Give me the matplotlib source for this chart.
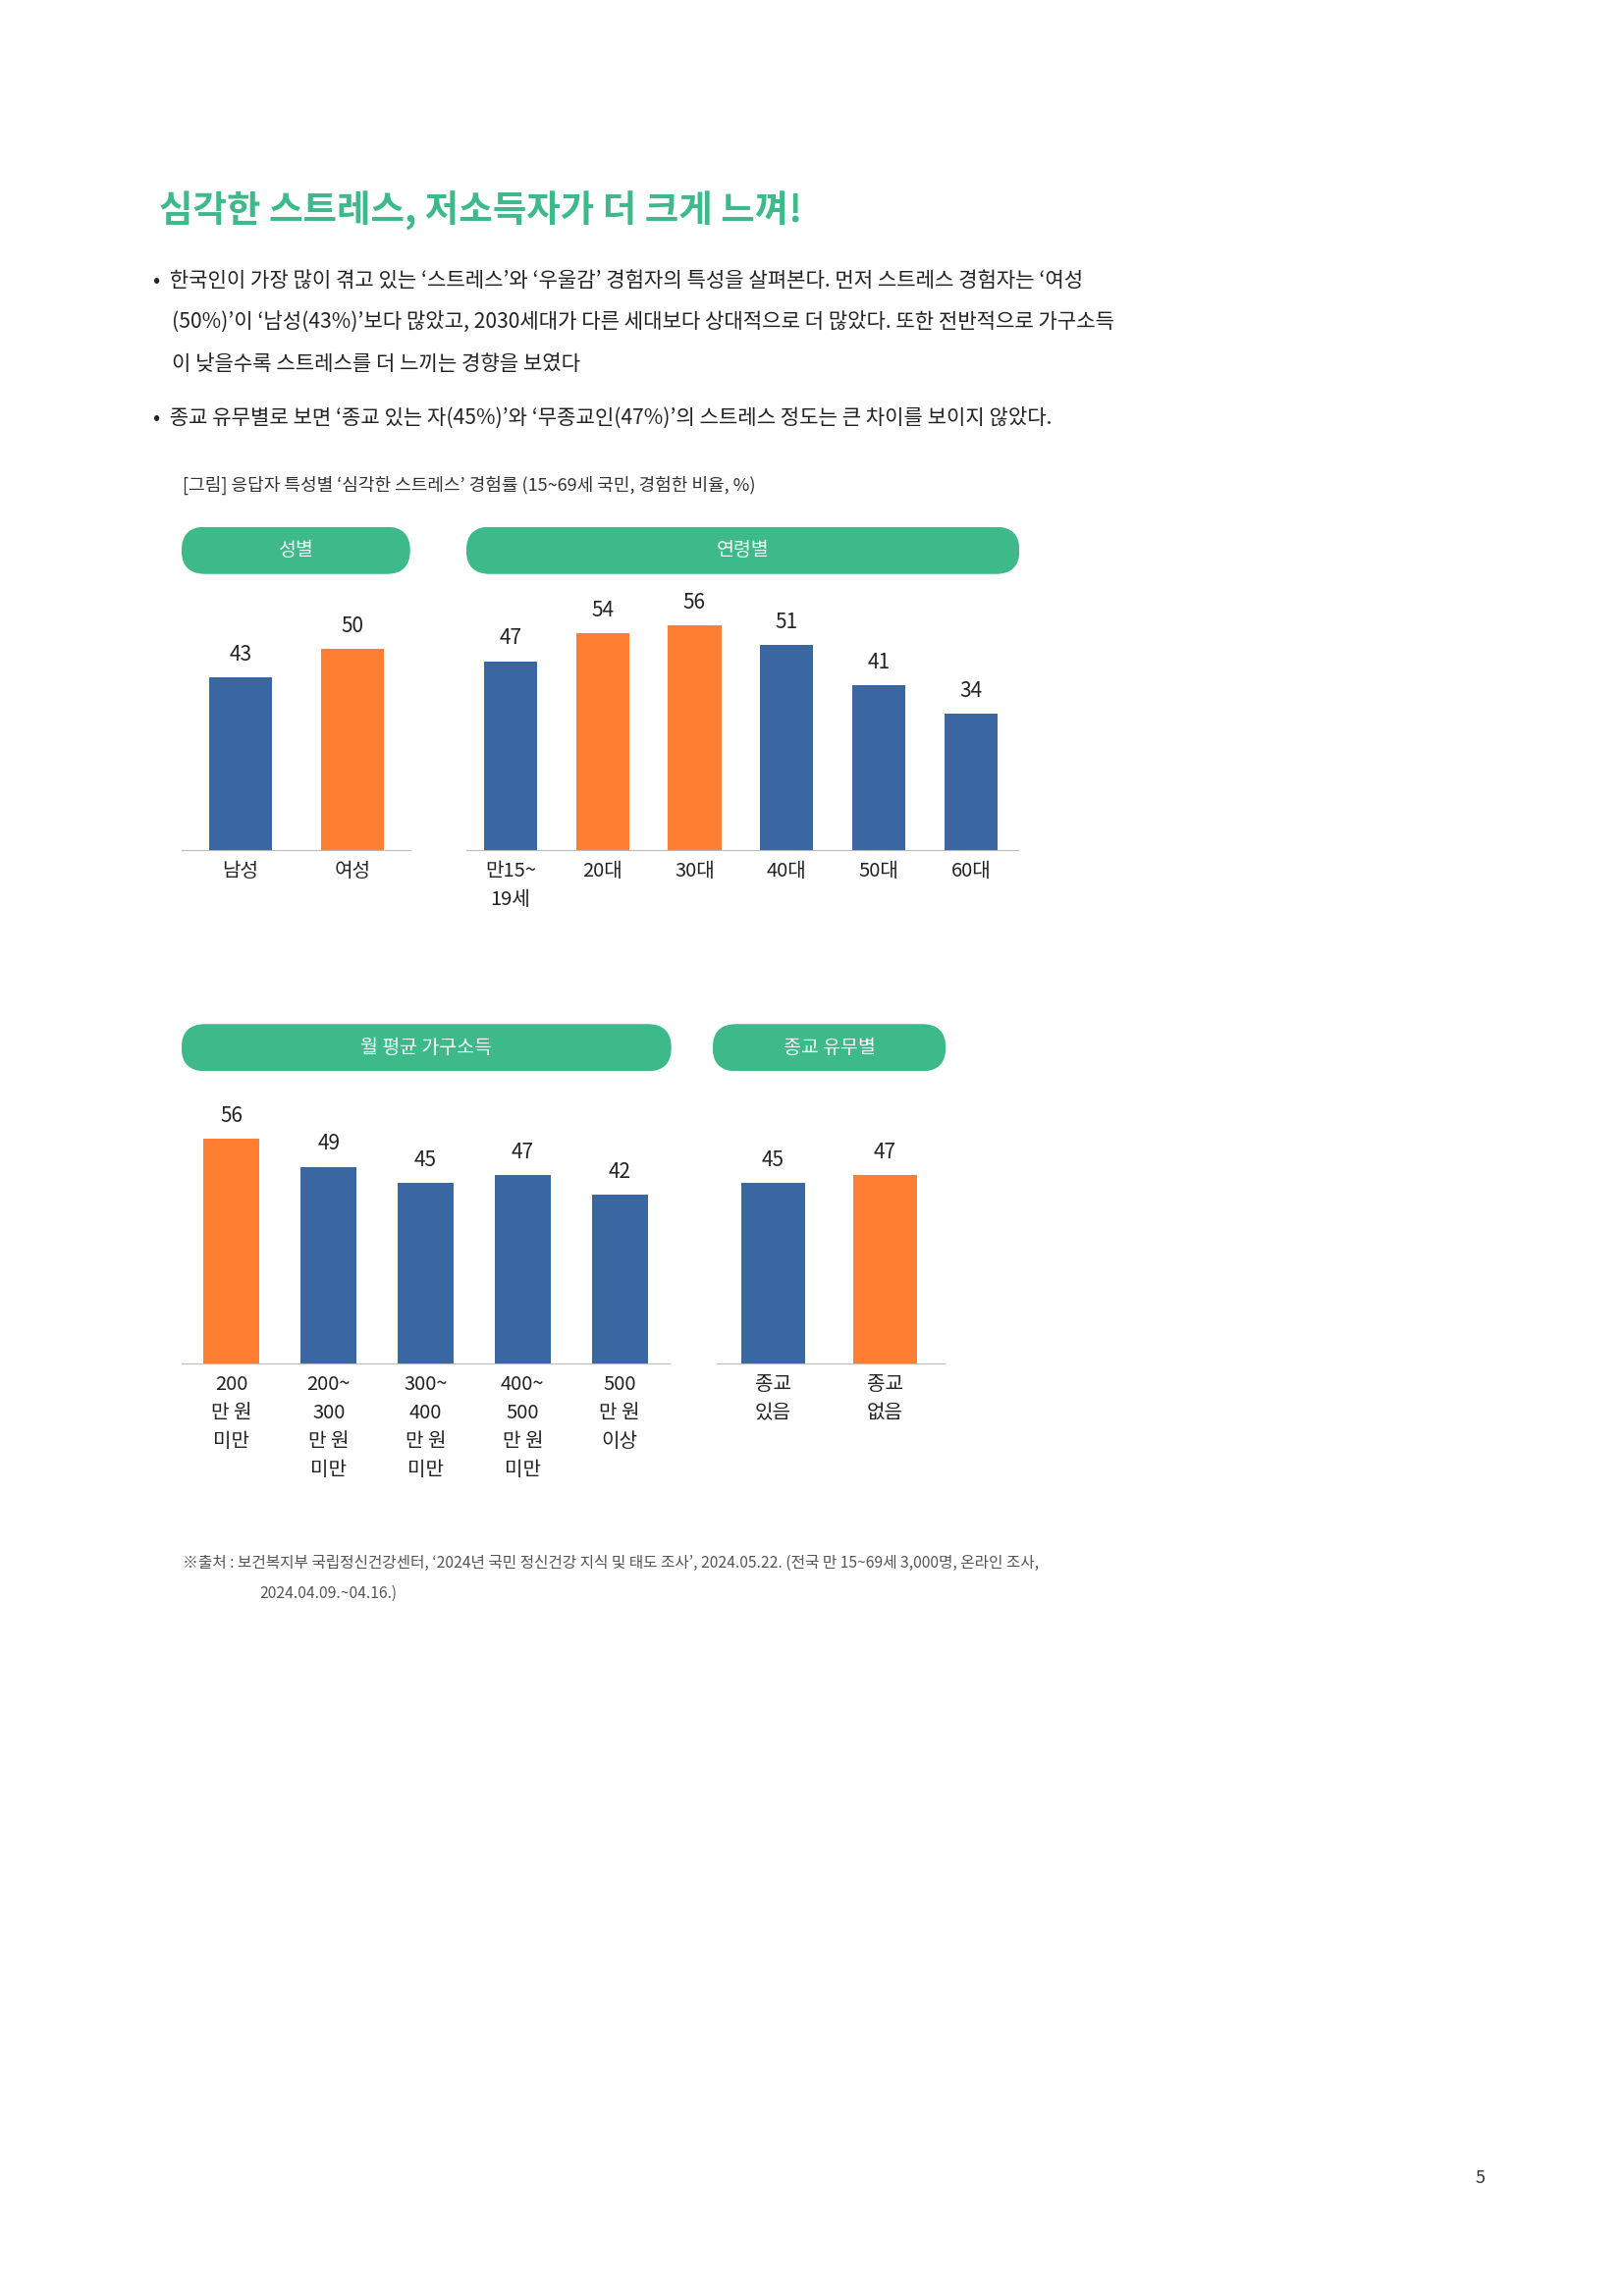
import matplotlib
matplotlib.use("Agg")
import matplotlib.pyplot as plt
from matplotlib import font_manager
from matplotlib.patches import FancyBboxPatch

avail = {f.name for f in font_manager.fontManager.ttflist}
fams = [f for f in ["Noto Sans CJK KR", "Noto Sans CJK JP", "Noto Sans CJK SC", "Noto Sans CJK TC"] if f in avail]
plt.rcParams["font.family"] = fams + ["DejaVu Sans"]

gender_labels = ["남성", "여성"]
gender_values = [43, 50]
gender_colors = ["b", "o"]
age_labels = ["만15~\n19세", "20대", "30대", "40대", "50대", "60대"]
age_values = [47, 54, 56, 51, 41, 34]
age_colors = ["b", "o", "o", "b", "b", "b"]
income_labels = ["200\n만 원\n미만", "200~\n300\n만 원\n미만", "300~\n400\n만 원\n미만", "400~\n500\n만 원\n미만", "500\n만 원\n이상"]
income_values = [56, 49, 45, 47, 42]
income_colors = ["o", "b", "b", "b", "b"]
rel_labels = ["종교\n있음", "종교\n없음"]
rel_values = [45, 47]
rel_colors = ["b", "o"]

BLUE = "#3A66A2"
ORANGE = "#FF7F32"
GREEN = "#3DB98A"
W, H = 1100.0, 1556.0
fig = plt.figure(figsize=(16.53, 23.39), dpi=100)

def fx(x): return x / W
def fy(y): return 1 - y / H

def txt(x, y, s, size, **kw):
    fig.text(fx(x), fy(y), s, fontsize=size, **kw)

txt(108, 143, "심각한 스트레스, 저소득자가 더 크게 느껴!", 27, color=GREEN, weight="bold", va="center")
body = [
    (190, "•  한국인이 가장 많이 겪고 있는 ‘스트레스’와 ‘우울감’ 경험자의 특성을 살펴본다. 먼저 스트레스 경험자는 ‘여성"),
    (219, "    (50%)’이 ‘남성(43%)’보다 많았고, 2030세대가 다른 세대보다 상대적으로 더 많았다. 또한 전반적으로 가구소득"),
    (247, "    이 낮을수록 스트레스를 더 느끼는 경향을 보였다"),
    (284, "•  종교 유무별로 보면 ‘종교 있는 자(45%)’와 ‘무종교인(47%)’의 스트레스 정도는 큰 차이를 보이지 않았다."),
]
for y, s in body:
    txt(104, y, s, 15.2, color="#222222", va="center")
txt(124, 329, "[그림] 응답자 특성별 ‘심각한 스트레스’ 경험률 (15~69세 국민, 경험한 비율, %)", 13, color="#333333", va="center")

def pill(x0, x1, y0, y1, label):
    ax = fig.add_axes([fx(x0), fy(y1), fx(x1 - x0), (y1 - y0) / H])
    ax.axis("off")
    w = x1 - x0; h = y1 - y0
    ax.set_xlim(0, w); ax.set_ylim(0, h)
    ax.add_patch(FancyBboxPatch((0, 0), w, h, boxstyle="round,pad=0,rounding_size=%f" % (h / 2),
                                fc=GREEN, ec="none"))
    ax.text(w / 2, h / 2, label, color="white", fontsize=14, ha="center", va="center")

def panel(x0, x1, base, first, spacing, bw, labels, values, colors):
    top = base - 68 * 2.72
    ax = fig.add_axes([fx(x0), fy(base), fx(x1 - x0), (base - top) / H])
    n = len(values)
    xs = list(range(n))
    ax.bar(xs, values, width=bw / spacing,
           color=[BLUE if c == "b" else ORANGE for c in colors])
    ax.set_xlim(-(first - x0) / spacing, (x1 - first) / spacing)
    ax.set_ylim(0, 68)
    for i, v in zip(xs, values):
        ax.text(i, v + 3, str(v), ha="center", va="bottom", fontsize=15, color="#222222")
    for s in ["top", "right", "left"]:
        ax.spines[s].set_visible(False)
    ax.spines["bottom"].set_color("#BBBBBB")
    ax.set_yticks([])
    ax.set_xticks(xs)
    ax.set_xticklabels(labels, fontsize=14.5, color="#222222", linespacing=1.5)
    ax.tick_params(axis="x", length=0, pad=8)

pill(123, 278, 357, 389, "성별")
pill(316, 691, 357, 389, "연령별")
pill(123, 455, 694, 726, "월 평균 가구소득")
pill(483, 641, 694, 726, "종교 유무별")

panel(123, 278, 576, 163, 76, 43, gender_labels, gender_values, gender_colors)
panel(316, 690, 576, 346, 62.4, 36, age_labels, age_values, age_colors)
panel(123, 454, 924, 157, 65.75, 38, income_labels, income_values, income_colors)
panel(486, 640, 924, 524, 76, 43, rel_labels, rel_values, rel_colors)

txt(124, 1059, "※출처 : 보건복지부 국립정신건강센터, ‘2024년 국민 정신건강 지식 및 태도 조사’, 2024.05.22. (전국 만 15~69세 3,000명, 온라인 조사,", 11.3, color="#555555", va="center")
txt(176, 1080, "2024.04.09.~04.16.)", 11.3, color="#555555", va="center")
txt(1003, 1476, "5", 13, color="#333333", va="center", ha="center")

fig.savefig("out.png", dpi=100, facecolor="white")
